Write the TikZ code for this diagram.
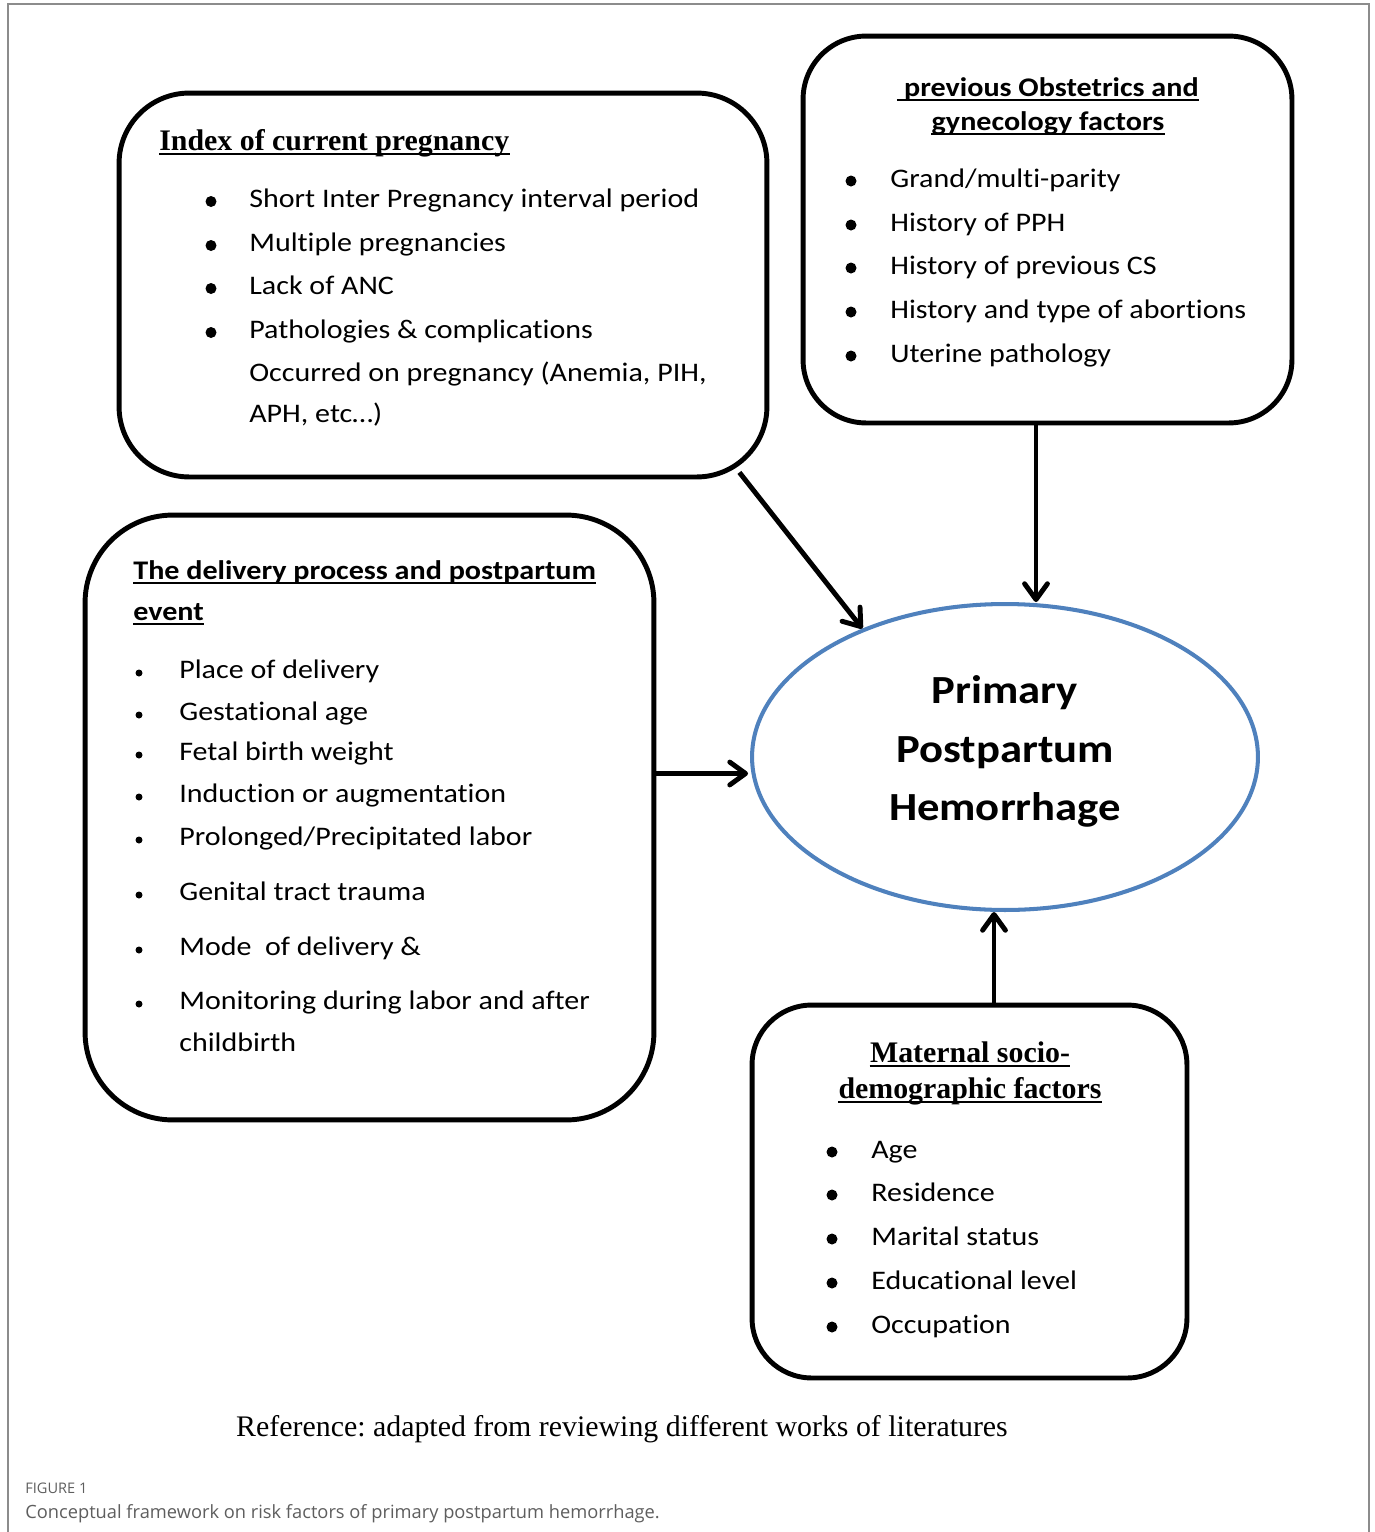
\documentclass[tikz,border=0pt]{standalone}
\usepackage{fontspec}
\setmainfont{Carlito}[FakeStretch=1.12, Ligatures=NoCommon]
\newfontfamily\hfont{Liberation Serif}
\newfontfamily\capfont{Open Sans}
\usetikzlibrary{arrows.meta,shapes.geometric,calc}
\definecolor{ellblue}{HTML}{4F81BD}
\definecolor{framegray}{HTML}{8C8C8C}
\definecolor{capgray}{HTML}{5E5E5E}
\frenchspacing
\begin{document}
\begin{tikzpicture}[x=0.02cm,y=-0.02cm,
  box/.style={draw, line width=2.8pt, inner sep=0pt},
  txt/.style={anchor=base west, inner sep=0pt, font=\fontsize{15.25}{18}\selectfont},
  shead/.style={inner sep=0pt, anchor=base, font=\hfont\bfseries\fontsize{17}{20}\selectfont},
  chead/.style={inner sep=0pt, anchor=base, font=\bfseries\fontsize{15.3}{18}\selectfont},
  etxt/.style={inner sep=0pt, anchor=base, font=\bfseries\fontsize{22.7}{26}\selectfont},
  uline/.style={line width=1.1pt},
  arr/.style={line width=2.8pt, -{Straight Barb[length=9pt,width=13pt,round]}},
]
\useasboundingbox (0,0) rectangle (1375,1532);
\draw[framegray, line width=0.9pt] (8,1532) -- (8,4) -- (1369,4) -- (1369,1532);

% boxes
\node[box, rounded corners=40pt, minimum width=12.96cm, minimum height=7.68cm] (box1) at (443,285) {};
\node[box, rounded corners=36pt, minimum width=9.78cm, minimum height=7.74cm] (box2) at (1047.5,229.5) {};
\node[box, rounded corners=50pt, minimum width=11.38cm, minimum height=12.1cm] (box3) at (369.5,817.5) {};
\node[box, rounded corners=34pt, minimum width=8.7cm, minimum height=7.46cm] (box4) at (969.5,1191.5) {};
\node[ellipse, draw=ellblue, line width=2.3pt, inner sep=0pt, minimum width=10.12cm, minimum height=6.12cm] (ppph) at (1005,757) {};

% ellipse text
\node[etxt] (e1) at (1005,703) {Primary};
\node[etxt] (e2) at (1005,762) {Postpartum};
\node[etxt] (e3) at (1005,820) {Hemorrhage};

% box1 text
\node[shead, anchor=base west] (h1) at (159,150) {Index of current pregnancy};
\draw[uline] ($(h1.base west)+(0,4)$) -- ($(h1.base east)+(0,4)$);
\foreach \yy in {207,251,294,338} \fill (211,\yy-5.5) circle (5.5);
\node[txt] (t11) at (249,207) {Short Inter Pregnancy interval period};
\node[txt] (t12) at (249,251) {Multiple pregnancies};
\node[txt] (t13) at (249,294) {Lack of ANC};
\node[txt] (t14) at (249,338) {Pathologies \& complications};
\node[txt] (t15) at (249,381) {Occurred on pregnancy (Anemia, PIH,};
\node[txt] (t16) at (249,422) {APH, etc…)};

% box2 text
\node[chead] (h21) at (1048,96) {\ previous Obstetrics and};
\draw[uline] ($(h21.base west)+(0,4)$) -- ($(h21.base east)+(0,4)$);
\node[chead] (h22) at (1048,130) {gynecology factors};
\draw[uline] ($(h22.base west)+(0,4)$) -- ($(h22.base east)+(0,4)$);
\foreach \yy in {187,231,274,318,362} \fill (851,\yy-6) circle (5.5);
\node[txt] (t21) at (890,187) {Grand/multi-parity};
\node[txt] (t22) at (890,231) {History of PPH};
\node[txt] (t23) at (890,274) {History of previous CS};
\node[txt] (t24) at (890,318) {History and type of abortions};
\node[txt] (t25) at (890,362) {Uterine pathology};

% box3 text
\node[chead, anchor=base west] (h31) at (133,579) {The delivery process and postpartum};
\draw[uline] ($(h31.base west)+(0,4)$) -- ($(h31.base east)+(0,4)$);
\node[chead, anchor=base west] (h32) at (133,620) {event};
\draw[uline] ($(h32.base west)+(0,4)$) -- ($(h32.base east)+(0,4)$);
\foreach \yy in {678,720,760,802,845,900,955,1009} \fill (139,\yy-5) circle (3.5);
\node[txt] (t31) at (179,678) {Place of delivery};
\node[txt] (t32) at (179,720) {Gestational age};
\node[txt] (t33) at (179,760) {Fetal birth weight};
\node[txt] (t34) at (179,802) {Induction or augmentation};
\node[txt] (t35) at (179,845) {Prolonged/Precipitated labor};
\node[txt] (t36) at (179,900) {Genital tract trauma};
\node[txt] (t37) at (179,955) {Mode\ \ of delivery \&};
\node[txt] (t38) at (179,1009) {Monitoring during labor and after};
\node[txt] (t39) at (179,1051) {childbirth};

% box4 text
\node[shead] (h41) at (970,1062) {Maternal socio-};
\draw[uline] ($(h41.base west)+(0,4)$) -- ($(h41.base east)+(0,4)$);
\node[shead] (h42) at (970,1098) {demographic factors};
\draw[uline] ($(h42.base west)+(0,4)$) -- ($(h42.base east)+(0,4)$);
\foreach \yy in {1158,1201,1245,1289,1333} \fill (832,\yy-6) circle (5.5);
\node[txt] (t41) at (871,1158) {Age};
\node[txt] (t42) at (871,1201) {Residence};
\node[txt] (t43) at (871,1245) {Marital status};
\node[txt] (t44) at (871,1289) {Educational level};
\node[txt] (t45) at (871,1333) {Occupation};

% arrows
\draw[arr] ($(box1.south east)+(-30,-7)$) -- (ppph.138);
\draw[arr] ($(box2.south)+(-11.5,0)$) coordinate (a2) -- (a2 |- ppph.north);
\draw[arr] ($(box3.east)+(0,-44)$) coordinate (a3) -- ($(a3 -| ppph.west)+(-2,0)$);
\draw[arr] ($(box4.north)+(24.5,0)$) coordinate (a4) -- (a4 |- ppph.south);

% reference and caption
\node[inner sep=0pt, anchor=base, font=\hfont\fontsize{17}{20}\selectfont] (ref) at (622,1436) {Reference: adapted from reviewing different works of literatures};
\node[inner sep=0pt, anchor=base west, text=capgray, font=\capfont\fontsize{8.3}{10}\selectfont] (fig) at (25,1493) {FIGURE 1};
\node[inner sep=0pt, anchor=base west, text=capgray, font=\capfont\fontsize{10.4}{13}\selectfont] (cap) at (25,1518) {Conceptual framework on risk factors of primary postpartum hemorrhage.};
\end{tikzpicture}
\end{document}
